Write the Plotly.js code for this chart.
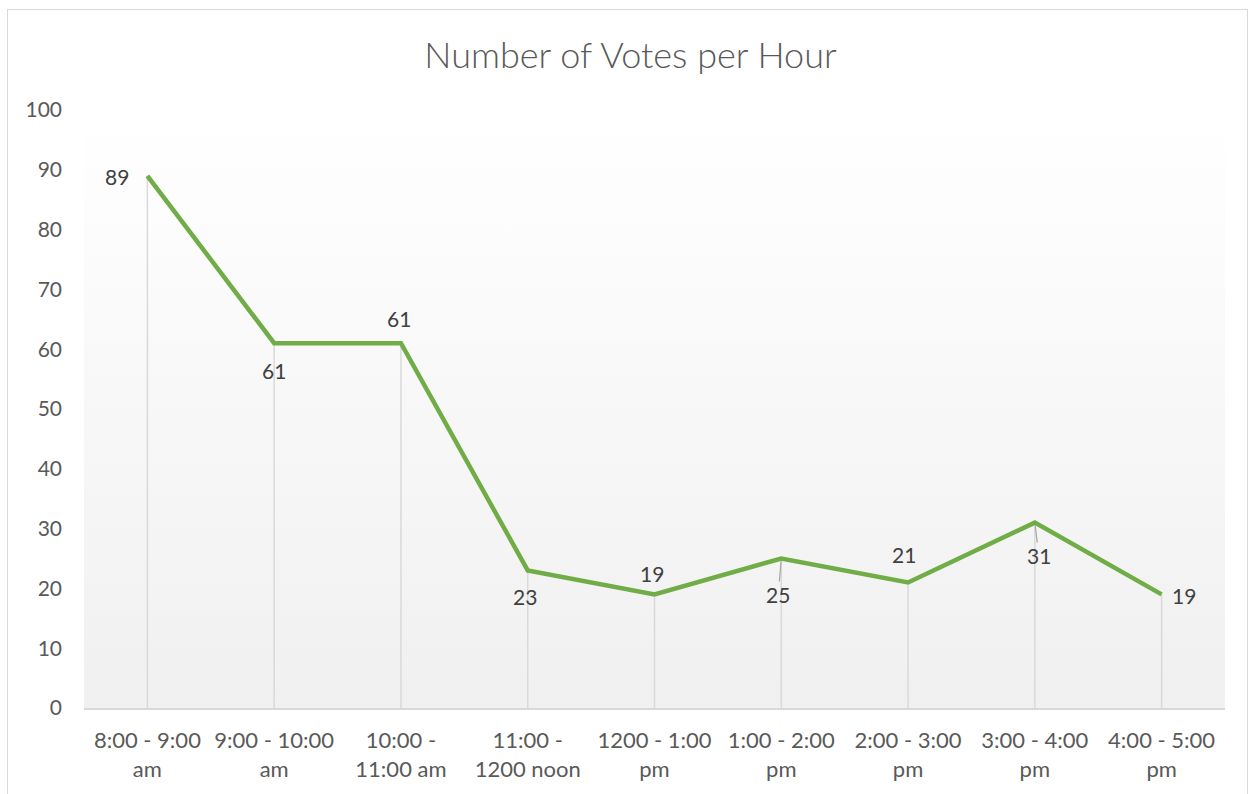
<!DOCTYPE html>
<html>
<head>
<meta charset="utf-8">
<script src="https://cdn.plot.ly/plotly-3.0.1.min.js"></script>
<style>
  html, body { margin: 0; padding: 0; background: #ffffff; }
  #wrap { position: relative; width: 1255px; height: 794px; overflow: hidden; }
  #chart { position: absolute; left: 0; top: 0; width: 1255px; height: 794px; }
  #frame { position: absolute; left: 7px; top: 9px; width: 1241px; height: 820px;
           border: 1.5px solid #d9d9d9; box-sizing: border-box; pointer-events: none; }
</style>
</head>
<body>
<div id="wrap">
  <div id="chart"></div>
  <div id="frame"></div>
</div>
<script>
const categories = [
  "8:00 - 9:00<br>am",
  "9:00 - 10:00<br>am",
  "10:00 -<br>11:00 am",
  "11:00 -<br>1200 noon",
  "1200 - 1:00<br>pm",
  "1:00 - 2:00<br>pm",
  "2:00 - 3:00<br>pm",
  "3:00 - 4:00<br>pm",
  "4:00 - 5:00<br>pm"
];
const votes = [89, 61, 61, 23, 19, 25, 21, 31, 19];

// label placement (style only): pixel offsets of each data label from its point
const labelDx = [-30, 0, -2, -3, -3, -3, -4, 4, 22];
const labelDy = [1, 27, -25, 26, -21, 36, -28, 33, 1];
const hasLeader = [false, false, false, false, false, true, false, true, false];

const FONT = "Lato, 'Noto Sans', sans-serif";
const xs = categories.map((c, i) => i);

const dropTrace = {
  x: xs, y: votes, type: "scatter", mode: "markers",
  marker: { size: 1, color: "rgba(0,0,0,0)" },
  error_y: { type: "data", symmetric: false, array: votes.map(() => 0),
             arrayminus: votes, width: 0, color: "#d9d9d9", thickness: 1.5 },
  hoverinfo: "skip", showlegend: false
};

const lineTrace = {
  x: xs, y: votes, type: "scatter", mode: "lines",
  line: { color: "#70ad47", width: 4.5 },
  showlegend: false
};

const gradSvg = "<svg xmlns='http://www.w3.org/2000/svg' width='100' height='100' preserveAspectRatio='none'>" +
  "<defs><linearGradient id='g' x1='0' y1='0' x2='0' y2='1'>" +
  "<stop offset='0' stop-color='#ffffff'/><stop offset='1' stop-color='#f0f0f0'/></linearGradient></defs>" +
  "<rect width='100' height='100' fill='url(#g)'/></svg>";

const annotations = votes.map((v, i) => {
  const base = {
    x: xs[i], y: v, xref: "x", yref: "y", text: String(v),
    font: { family: FONT, size: 21, color: "#404040" }
  };
  if (hasLeader[i]) {
    return Object.assign(base, {
      showarrow: true, arrowhead: 0, arrowwidth: 1.2, arrowcolor: "#a6a6a6",
      ax: labelDx[i], ay: labelDy[i], standoff: 3, borderpad: 0
    });
  }
  return Object.assign(base, { showarrow: false, xshift: labelDx[i], yshift: -labelDy[i] });
});

const layout = {
  width: 1255, height: 794,
  margin: { l: 84, r: 30, t: 110, b: 86 },
  paper_bgcolor: "#ffffff",
  plot_bgcolor: "rgba(0,0,0,0)",
  font: { family: FONT, color: "#595959", size: 22 },
  title: { text: "Number of Votes per Hour", x: 630.5 / 1255, xref: "container", xanchor: "center",
           y: 1 - 55 / 794, yref: "container", yanchor: "middle",
           font: { family: FONT, size: 36, color: "#595959", weight: 300 } },
  xaxis: {
    range: [-0.5, categories.length - 0.5],
    tickmode: "array", tickvals: xs, ticktext: categories,
    showgrid: false, zeroline: false,
    showline: true, linecolor: "#d9d9d9", linewidth: 1.5,
    ticks: "", ticklabelstandoff: 12,
    tickfont: { family: FONT, size: 22, color: "#595959" },
    fixedrange: true
  },
  yaxis: {
    range: [0, 100], tickvals: [0, 10, 20, 30, 40, 50, 60, 70, 80, 90, 100],
    showgrid: false, zeroline: false, showline: false,
    ticks: "", ticklabelstandoff: 21,
    tickfont: { family: FONT, size: 21, color: "#595959" },
    fixedrange: true
  },
  images: [{
    source: "data:image/svg+xml;charset=utf-8," + encodeURIComponent(gradSvg),
    xref: "paper", yref: "paper", x: 0, y: 1, sizex: 1, sizey: 1,
    sizing: "stretch", xanchor: "left", yanchor: "top", layer: "below"
  }],
  annotations: annotations
};

Plotly.newPlot("chart", [dropTrace, lineTrace], layout, { displayModeBar: false, staticPlot: true });
</script>
</body>
</html>
